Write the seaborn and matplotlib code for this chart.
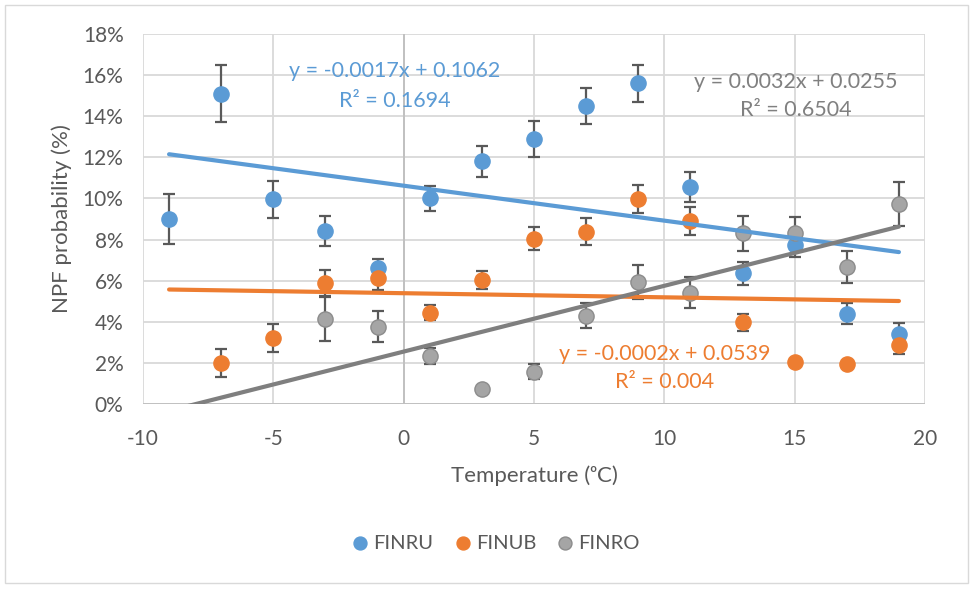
import numpy as np
import pandas as pd
import matplotlib
matplotlib.use("Agg")
import matplotlib.pyplot as plt
from matplotlib.ticker import PercentFormatter, MultipleLocator
from matplotlib.patches import Rectangle
import seaborn as sns

# ---- data (percent) ----
finru_x = [-9, -7, -5, -3, -1, 1, 3, 5, 7, 9, 11, 13, 15, 17, 19]
finru_y = [9.0, 15.1, 9.95, 8.4, 6.6, 10.0, 11.8, 12.9, 14.5, 15.6, 10.55, 6.35, 7.75, 4.4, 3.4]
finru_e = [1.2, 1.4, 0.88, 0.73, 0.47, 0.6, 0.75, 0.87, 0.88, 0.9, 0.73, 0.57, 0.6, 0.53, 0.55]

finub_x = [-7, -5, -3, -1, 1, 3, 5, 7, 9, 11, 13, 15, 17, 19]
finub_y = [2.0, 3.2, 5.87, 6.15, 4.45, 6.03, 8.05, 8.38, 9.97, 8.9, 3.97, 2.03, 1.95, 2.87]
finub_e = [0.69, 0.68, 0.65, 0.58, 0.37, 0.45, 0.58, 0.65, 0.7, 0.69, 0.42, 0.1, 0.1, 0.45]

finro_x = [-3, -1, 1, 3, 5, 7, 9, 11, 13, 15, 17, 19]
finro_y = [4.15, 3.76, 2.33, 0.71, 1.57, 4.3, 5.95, 5.42, 8.3, 8.3, 6.65, 9.73]
finro_e = [1.1, 0.75, 0.38, 0.0, 0.37, 0.6, 0.82, 0.77, 0.85, 0.78, 0.77, 1.08]

series_names = ["FINRU", "FINUB", "FINRO"]
trend_slopes = [-0.0017, -0.0002, 0.0032]
trend_intercepts = [0.1062, 0.0539, 0.0255]
trend_r2 = ["0.1694", "0.004", "0.6504"]
trend_range = [-9, 19]

colors = {"FINRU": "#5B9BD5", "FINUB": "#ED7D31", "FINRO": "#A5A5A5"}
edge_colors = {"FINRU": "#5B9BD5", "FINUB": "#ED7D31", "FINRO": "#8C8C8C"}
line_colors = {"FINRU": "#5B9BD5", "FINUB": "#ED7D31", "FINRO": "#7F7F7F"}
text_colors = {"FINRU": "#5B9BD5", "FINUB": "#ED7D31", "FINRO": "#808080"}

frames = []
for name, xs, ys, es in zip(series_names,
                            [finru_x, finub_x, finro_x],
                            [finru_y, finub_y, finro_y],
                            [finru_e, finub_e, finro_e]):
    frames.append(pd.DataFrame({"Temperature": xs,
                                "P": np.array(ys) / 100.0,
                                "err": np.array(es) / 100.0,
                                "Series": name}))
df = pd.concat(frames, ignore_index=True)

sns.set_theme(style="white")
plt.rcParams["font.family"] = ["Lato", "DejaVu Sans"]
plt.rcParams["axes.unicode_minus"] = False

fig = plt.figure(figsize=(9.73, 5.89), dpi=100)
ax = fig.add_axes([143/973, 1-404/589, (925-143)/973, (404-34)/589])

# grid
ax.set_xlim(-10, 20)
ax.set_ylim(0, 0.18)
ax.xaxis.set_major_locator(MultipleLocator(5))
ax.yaxis.set_major_locator(MultipleLocator(0.02))
ax.yaxis.set_major_formatter(PercentFormatter(1.0, decimals=0))
ax.grid(True, color="#D9D9D9", linewidth=1.3, zorder=0)
ax.set_axisbelow(True)
for s in ax.spines.values():
    s.set_visible(False)
ax.axvline(0, color="#BFBFBF", linewidth=1.3, zorder=1)
ax.axhline(0, color="#BFBFBF", linewidth=1.3, zorder=1)
ax.tick_params(axis="both", length=0, labelsize=15, colors="#595959")
ax.tick_params(axis="x", pad=18)
ax.tick_params(axis="y", pad=14)

# error bars
for name in series_names:
    d = df[df.Series == name]
    ax.errorbar(d.Temperature, d.P, yerr=d.err, fmt="none", ecolor="#595959",
                elinewidth=1.6, capsize=4.5, capthick=1.6, zorder=2)

# markers
for name in series_names:
    d = df[df.Series == name]
    sns.scatterplot(data=d, x="Temperature", y="P", color=colors[name], s=120,
                    edgecolor=edge_colors[name], linewidth=1.0, label=name,
                    ax=ax, zorder=3)

# trendlines
tx = np.array(trend_range, dtype=float)
for name, m, b in zip(series_names, trend_slopes, trend_intercepts):
    ty = m * tx + b
    ax.plot(tx, ty, color=line_colors[name], linewidth=3.0, zorder=4,
            solid_capstyle="round")

# equations
eq_pos = {"FINRU": (395, 71, 101), "FINRO": (796, 82, 110), "FINUB": (665, 354, 382)}
for name, m, b, r2 in zip(series_names, trend_slopes, trend_intercepts, trend_r2):
    px, py1, py2 = eq_pos[name]
    sign = "+" if b >= 0 else "-"
    fig.text(px/973, 1-py1/589, f"y = {m:.4f}x {sign} {abs(b):.4f}",
             color=text_colors[name], fontsize=15.5, ha="center", va="center")
    fig.text(px/973, 1-py2/589, f"R² = {r2}", color=text_colors[name],
             fontsize=15.5, ha="center", va="center")

ax.set_xlabel("Temperature (ᵒC)", fontsize=16, color="#595959", labelpad=12)
ax.set_ylabel("NPF probability (%)", fontsize=16, color="#595959", labelpad=8)

ax.legend(loc="center", bbox_to_anchor=(490/973, 1-543/589),
          bbox_transform=fig.transFigure, ncol=3, frameon=False,
          fontsize=14.5, handletextpad=-0.35, columnspacing=0.45,
          markerscale=0.85, labelcolor="#595959")

fig.patches.append(Rectangle((5/973, 1-583/589), 963/973, 578/589,
                             transform=fig.transFigure, fill=False,
                             edgecolor="#D9D9D9", linewidth=1.0))

fig.savefig("out.png", dpi=100, facecolor="white")
